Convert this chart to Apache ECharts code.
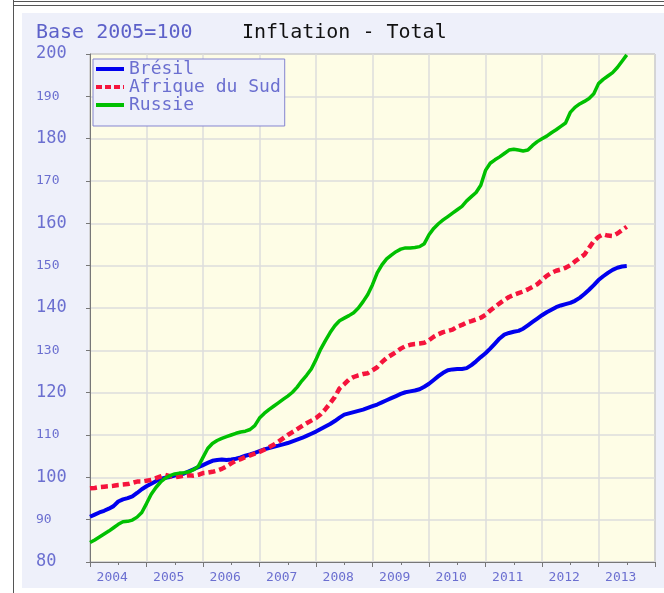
<!DOCTYPE html>
<html>
<head>
<meta charset="utf-8">
<script src="https://cdn.jsdelivr.net/npm/echarts@6/dist/echarts.min.js"></script>
<style>
  html, body { margin: 0; padding: 0; background: #ffffff; }
  #wrap { position: relative; width: 664px; height: 593px; overflow: hidden; }
  #panel { position: absolute; left: 22px; top: 13px; width: 642px; height: 575px; background: #eef0fa; }
  .hl { position: absolute; left: 13px; right: 0; height: 1px; background: #555; }
  .vl { position: absolute; left: 13px; top: 0; bottom: 0; width: 1px; background: #555; }
  #chart { position: absolute; left: 0; top: 0; width: 664px; height: 593px; }
</style>
</head>
<body>
<div id="wrap">
  <div id="panel"></div>
  <div class="hl" style="top:1px"></div>
  <div class="hl" style="top:5px"></div>
  <div class="vl"></div>
  <div id="chart"></div>
</div>
<script>
// Consumer price index, base 2005 = 100, monthly from January 2004
const firstYear = 2004;
const yearLabels = ['2004', '2005', '2006', '2007', '2008', '2009', '2010', '2011', '2012', '2013'];
const yTicks = [80, 90, 100, 110, 120, 130, 140, 150, 160, 170, 180, 190, 200];

const bresil = [
  90.7, 91.2, 91.7, 92.1, 92.6, 93.2, 94.3, 94.8, 95.1, 95.5, 96.3, 97.2,
  97.9, 98.5, 99.1, 99.6, 99.9, 100.1, 100.4, 100.6, 100.9, 101.4, 101.9, 102.4,
  102.9, 103.4, 103.9, 104.1, 104.2, 104.1, 104.2, 104.4, 104.7, 105.1, 105.4, 105.8,
  106.2, 106.6, 106.9, 107.2, 107.5, 107.8, 108.1, 108.5, 108.9, 109.3, 109.8, 110.3,
  110.8, 111.4, 112.0, 112.6, 113.3, 114.1, 114.8, 115.1, 115.4, 115.7, 116.0, 116.4,
  116.8, 117.2, 117.7, 118.2, 118.7, 119.2, 119.7, 120.1, 120.3, 120.5, 120.8, 121.4,
  122.1, 123.0, 123.9, 124.7, 125.3, 125.5, 125.6, 125.6, 125.8, 126.5, 127.4, 128.4,
  129.3, 130.4, 131.6, 132.8, 133.7, 134.1, 134.4, 134.6, 135.1, 135.9, 136.7, 137.5,
  138.3, 139.0, 139.6, 140.2, 140.6, 140.9, 141.2, 141.7, 142.4, 143.3, 144.3, 145.4,
  146.6, 147.5, 148.3, 149.0, 149.5, 149.8, 149.9
];

const afriqueDuSud = [
  97.4, 97.5, 97.7, 97.8, 97.9, 98.0, 98.2, 98.3, 98.4, 98.7, 99.0, 99.0,
  99.2, 99.4, 99.8, 100.2, 100.6, 100.3, 100.0, 100.2, 100.4, 100.5, 100.4, 100.6,
  101.0, 101.1, 101.3, 101.6, 102.0, 102.6, 103.3, 103.9, 104.3, 104.8, 105.2, 105.6,
  106.0, 106.5, 107.1, 107.7, 108.4, 109.2, 110.0, 110.7, 111.4, 112.1, 112.8, 113.4,
  114.0, 114.9, 116.1, 117.5, 119.0, 121.0, 122.0, 123.1, 123.7, 124.1, 124.4, 124.6,
  125.3, 126.0, 127.2, 128.2, 128.9, 129.6, 130.4, 131.0, 131.3, 131.5, 131.6, 131.8,
  132.4, 133.2, 133.8, 134.3, 134.6, 134.9, 135.6, 136.0, 136.6, 136.9, 137.3, 137.7,
  138.4, 139.4, 140.3, 141.1, 141.9, 142.6, 143.1, 143.5, 143.9, 144.4, 145.0, 145.6,
  146.6, 147.6, 148.3, 148.8, 149.1, 149.5, 150.1, 151.0, 151.8, 152.6, 154.2, 155.8,
  156.8, 157.4, 157.1, 157.0, 157.6, 158.4, 159.2
];

const russie = [
  84.6, 85.2, 85.9, 86.6, 87.3, 88.1, 88.9, 89.5, 89.6, 89.9, 90.6, 91.7,
  93.8, 96.0, 97.6, 98.9, 99.8, 100.4, 100.8, 101.0, 101.1, 101.3, 101.8, 102.6,
  104.7, 106.8, 108.0, 108.7, 109.2, 109.6, 110.0, 110.4, 110.7, 110.9, 111.3, 112.2,
  114.0, 115.1, 116.0, 116.8, 117.6, 118.4, 119.2, 120.1, 121.3, 122.8, 124.1, 125.6,
  127.8, 130.3, 132.3, 134.2, 135.8, 137.0, 137.6, 138.2, 138.9, 140.0, 141.5, 143.2,
  145.5, 148.3, 150.2, 151.6, 152.5, 153.3, 153.9, 154.2, 154.2, 154.3, 154.5, 155.2,
  157.3, 158.8, 159.9, 160.8, 161.6, 162.4, 163.2, 164.0, 165.3, 166.3, 167.3, 169.0,
  172.5, 174.2, 175.0, 175.7, 176.5, 177.3, 177.5, 177.3, 177.1, 177.3, 178.4, 179.3,
  180.0, 180.6, 181.4, 182.1, 182.9, 183.7, 186.2, 187.4, 188.2, 188.8, 189.5, 190.6,
  193.0, 194.0, 194.8, 195.6, 196.8, 198.3, 199.8
];

const labelColor = '#6b6fd0';
const mono = 'DejaVu Sans Mono';

// month i of the series sits at firstYear + i/12 on the value axis
function toPoints(values) {
  return values.map((v, i) => [firstYear + i / 12, v]);
}

// legend keys: a solid bar, and three short dashes
const solidKey = 'path://M0,0H28V4H0Z';
const dashedKey = 'path://M0,0H6V4H0Z M9,0H15V4H9Z M18,0H24V4H18Z M27,0H28V4H27Z';

const chart = echarts.init(document.getElementById('chart'), null, { renderer: 'canvas' });

chart.setOption({
  backgroundColor: 'transparent',
  animation: false,
  title: [
    {
      text: 'Base 2005=100',
      left: 31, top: 18,
      textStyle: { color: '#5d61c9', fontFamily: mono, fontSize: 20, fontWeight: 'normal' }
    },
    {
      text: 'Inflation - Total',
      left: 237, top: 18,
      textStyle: { color: '#111111', fontFamily: mono, fontSize: 20, fontWeight: 'normal' }
    }
  ],
  legend: {
    orient: 'vertical',
    left: 93, top: 59,
    padding: [1, 4, 12, 3],
    backgroundColor: '#eef0fa',
    borderColor: '#8585d0',
    borderWidth: 1,
    itemWidth: 28,
    itemHeight: 4,
    itemGap: 0,
    textStyle: { color: labelColor, fontFamily: mono, fontSize: 18, lineHeight: 17.5 },
    data: [
      { name: 'Brésil', icon: solidKey },
      { name: 'Afrique du Sud', icon: dashedKey },
      { name: 'Russie', icon: solidKey }
    ]
  },
  grid: {
    left: 90, right: 9, top: 54, bottom: 31,
    show: true,
    backgroundColor: '#fefde6',
    borderColor: '#8a8a8a',
    borderWidth: 1
  },
  xAxis: [
    {
      type: 'value',
      min: 2004, max: 2014, interval: 1,
      axisLine: { show: true, lineStyle: { color: '#777777', width: 1 } },
      axisTick: { show: true, length: 5, lineStyle: { color: '#777777' } },
      minorTick: { show: true, splitNumber: 2, length: 3, lineStyle: { color: '#777777' } },
      splitLine: { show: true, lineStyle: { color: '#dcdcdc', width: 1.5 } },
      axisLabel: { show: false }
    },
    {
      type: 'category',
      data: yearLabels,
      position: 'bottom',
      boundaryGap: true,
      axisLine: { show: false },
      axisTick: { show: false },
      splitLine: { show: false },
      axisLabel: { color: labelColor, fontFamily: mono, fontSize: 13, margin: 9, padding: [0, 12, 0, 0] }
    }
  ],
  yAxis: {
    type: 'value',
    min: yTicks[0], max: yTicks[yTicks.length - 1], interval: 10,
    axisLine: { show: true, lineStyle: { color: '#777777', width: 1 } },
    axisTick: { show: true, length: 4, lineStyle: { color: '#777777' } },
    splitLine: { show: true, lineStyle: { color: '#dcdcdc', width: 1.5 } },
    axisLabel: {
      align: 'left',
      margin: 54,
      formatter: v => (v % 20 === 0 ? '{big|' + v + '}' : '{small|' + v + '}'),
      rich: {
        big: { color: labelColor, fontFamily: mono, fontSize: 17 },
        small: { color: labelColor, fontFamily: mono, fontSize: 13 }
      }
    }
  },
  series: [
    {
      name: 'Brésil', type: 'line', xAxisIndex: 0,
      data: toPoints(bresil),
      symbol: 'none',
      itemStyle: { color: '#0000ee' },
      lineStyle: { color: '#0000ee', width: 4 }
    },
    {
      name: 'Afrique du Sud', type: 'line', xAxisIndex: 0,
      data: toPoints(afriqueDuSud),
      symbol: 'none',
      itemStyle: { color: '#f5143c' },
      lineStyle: { color: '#f5143c', width: 4.5, type: [7, 4] }
    },
    {
      name: 'Russie', type: 'line', xAxisIndex: 0,
      data: toPoints(russie),
      symbol: 'none',
      itemStyle: { color: '#00c000' },
      lineStyle: { color: '#00c000', width: 3.5 }
    }
  ]
});
</script>
</body>
</html>
